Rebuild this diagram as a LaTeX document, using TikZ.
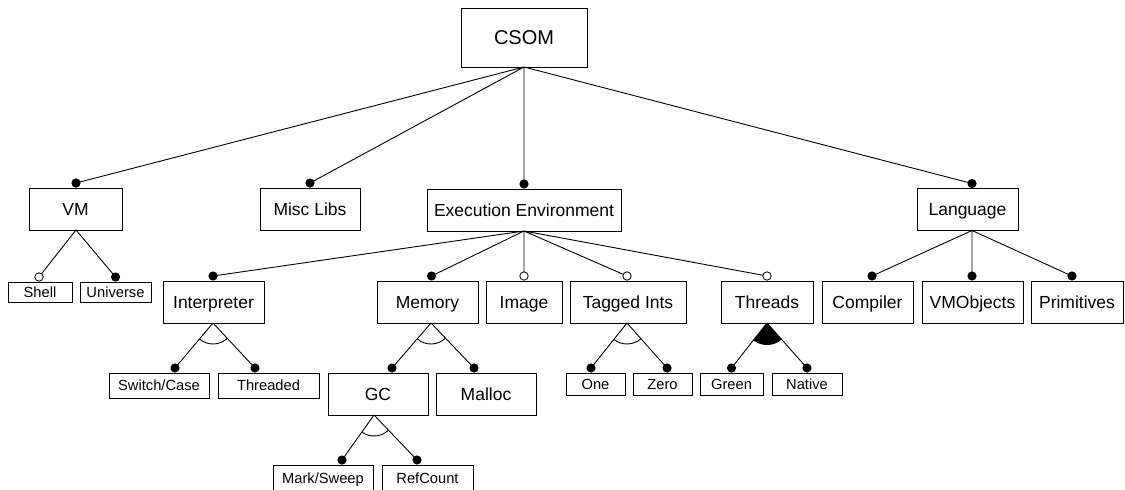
\documentclass[tikz,border=0pt]{standalone}
\usepackage{fontspec}
\setmainfont{Liberation Sans}
\usetikzlibrary{angles}
\begin{document}
\begin{tikzpicture}[x=1pt,y=-1pt,
  box/.style={draw, line width=0.9pt, inner sep=0pt, outer sep=0pt, text height=12.5pt, text depth=0pt, font=\fontsize{17.5}{20}\selectfont},
  bigbox/.style={box, text height=14.3pt, font=\fontsize{20}{24}\selectfont},
  smallbox/.style={box, text height=10.5pt, font=\fontsize{14.7}{17}\selectfont},
  link/.style={draw, line width=0.9pt},
  mand/.style={fill=black},
  opt/.style={draw, fill=white, line width=0.8pt},
  altarc/.style={draw, line width=0.9pt, angle radius=21pt},
  orarc/.style={fill=black, angle radius=22pt}]
\useasboundingbox (0,0) rectangle (1125,490);
\clip (0,0) rectangle (1125,490);
% nodes
\node[bigbox, minimum width=126pt, minimum height=59pt] (csom) at (524,37.5) {CSOM};
\node[box, minimum width=93pt, minimum height=42pt] (vm) at (75.5,209) {VM};
\node[box, minimum width=100pt, minimum height=42pt] (misc) at (310,209) {Misc Libs};
\node[box, minimum width=194pt, minimum height=42pt] (ee) at (524,210) {Execution Environment};
\node[box, minimum width=101pt, minimum height=42pt] (lang) at (967.5,209.5) {Language};
\node[smallbox, minimum width=64pt, minimum height=20pt] (shell) at (40,292) {Shell};
\node[smallbox, minimum width=71pt, minimum height=20pt] (univ) at (115.5,292) {Universe};
\node[box, minimum width=101pt, minimum height=42pt] (interp) at (213.5,302) {Interpreter};
\node[box, minimum width=101pt, minimum height=42pt] (mem) at (427.5,302) {Memory};
\node[box, minimum width=76pt, minimum height=42pt] (img) at (524,302) {Image};
\node[box, minimum width=116pt, minimum height=42pt] (tag) at (628,302) {Tagged Ints};
\node[box, minimum width=92pt, minimum height=42pt] (thr) at (767,302) {Threads};
\node[box, minimum width=91pt, minimum height=42pt] (comp) at (867.5,302) {Compiler};
\node[box, minimum width=101pt, minimum height=42pt] (vmo) at (972.5,302) {VMObjects};
\node[box, minimum width=92pt, minimum height=42pt] (prim) at (1077,302) {Primitives};
\node[smallbox, minimum width=100pt, minimum height=25pt] (sw) at (159,385.5) {Switch/Case};
\node[smallbox, minimum width=101pt, minimum height=25pt] (thd) at (268.5,385.5) {Threaded};
\node[box, minimum width=100pt, minimum height=42pt] (gc) at (378,394) {GC};
\node[box, minimum width=100pt, minimum height=42pt] (mal) at (486,394) {Malloc};
\node[smallbox, minimum width=100pt, minimum height=26pt] (ms) at (323,478) {Mark/Sweep};
\node[smallbox, minimum width=91pt, minimum height=26pt] (rc) at (427.5,478) {RefCount};
\node[smallbox, minimum width=59pt, minimum height=22pt] (one) at (595.5,384) {One};
\node[smallbox, minimum width=59pt, minimum height=22pt] (zero) at (662.5,384) {Zero};
\node[smallbox, minimum width=63pt, minimum height=22pt] (green) at (731.5,384) {Green};
\node[smallbox, minimum width=70pt, minimum height=22pt] (native) at (807,384) {Native};
% converge points
\coordinate (csomS) at (csom.south);
\coordinate (vmS) at ([xshift=0.5pt]vm.south);
\coordinate (eeS) at (ee.south);
\coordinate (langS) at ([xshift=4.5pt]lang.south);
\coordinate (interpS) at ([xshift=-0.5pt]interp.south);
\coordinate (memS) at ([xshift=3.5pt]mem.south);
\coordinate (gcS) at ([xshift=-4pt]gc.south);
\coordinate (tagS) at ([xshift=-1pt]tag.south);
\coordinate (thrS) at (thr.south);
% dot points
\coordinate (dvm) at ([xshift=0.5pt,yshift=5pt]vm.north);
\coordinate (dmisc) at ([yshift=5pt]misc.north);
\coordinate (dee) at ([yshift=5pt]ee.north);
\coordinate (dlang) at ([xshift=4.5pt,yshift=5pt]lang.north);
\coordinate (dshell) at ([xshift=-1pt,yshift=5pt]shell.north);
\coordinate (duniv) at ([yshift=5pt]univ.north);
\coordinate (dinterp) at ([xshift=-0.5pt,yshift=5pt]interp.north);
\coordinate (dmem) at ([xshift=4pt,yshift=5pt]mem.north);
\coordinate (dimg) at ([yshift=5pt]img.north);
\coordinate (dtag) at ([xshift=-1pt,yshift=5pt]tag.north);
\coordinate (dthr) at ([yshift=5pt]thr.north);
\coordinate (dcomp) at ([xshift=4.5pt,yshift=5pt]comp.north);
\coordinate (dvmo) at ([xshift=-0.5pt,yshift=5pt]vmo.north);
\coordinate (dprim) at ([xshift=-5pt,yshift=5pt]prim.north);
\coordinate (dsw) at ([xshift=16pt,yshift=5pt]sw.north);
\coordinate (dthd) at ([xshift=-13.5pt,yshift=5pt]thd.north);
\coordinate (dgc) at ([xshift=14pt,yshift=5pt]gc.north);
\coordinate (dmal) at ([xshift=-12pt,yshift=5pt]mal.north);
\coordinate (dms) at ([xshift=19pt,yshift=5pt]ms.north);
\coordinate (drc) at ([xshift=-10.5pt,yshift=5pt]rc.north);
\coordinate (done) at ([xshift=-4.5pt,yshift=5pt]one.north);
\coordinate (dzero) at ([xshift=4.5pt,yshift=5pt]zero.north);
\coordinate (dgreen) at ([yshift=5pt]green.north);
\coordinate (dnative) at ([yshift=5pt]native.north);
% links
\path[link] (csomS) -- (dvm) (csomS) -- (dmisc) (csomS) -- (dee) (csomS) -- (dlang);
\path[link] (vmS) -- (dshell) (vmS) -- (duniv);
\path[link] (eeS) -- (dinterp) (eeS) -- (dmem) (eeS) -- (dimg) (eeS) -- (dtag) (eeS) -- (dthr);
\path[link] (langS) -- (dcomp) (langS) -- (dvmo) (langS) -- (dprim);
\path[link] (interpS) -- (dsw) (interpS) -- (dthd);
\path[link] (memS) -- (dgc) (memS) -- (dmal);
\path[link] (gcS) -- (dms) (gcS) -- (drc);
\path[link] (tagS) -- (done) (tagS) -- (dzero);
\path[link] (thrS) -- (dgreen) (thrS) -- (dnative);
% group arcs
\pic[altarc] {angle = dsw--interpS--dthd};
\pic[altarc] {angle = dgc--memS--dmal};
\pic[altarc] {angle = dms--gcS--drc};
\pic[altarc] {angle = done--tagS--dzero};
\pic[orarc] {angle = dgreen--thrS--dnative};
% dots
\foreach \d in {dvm,dmisc,dee,dlang,duniv,dinterp,dmem,dcomp,dvmo,dprim,dsw,dthd,dgc,dmal,dms,drc,done,dzero,dgreen,dnative}
  \fill[mand] (\d) circle (4.6pt);
\foreach \d in {dshell,dimg,dtag,dthr}
  \draw[opt] (\d) circle (4.2pt);
\end{tikzpicture}
\end{document}
